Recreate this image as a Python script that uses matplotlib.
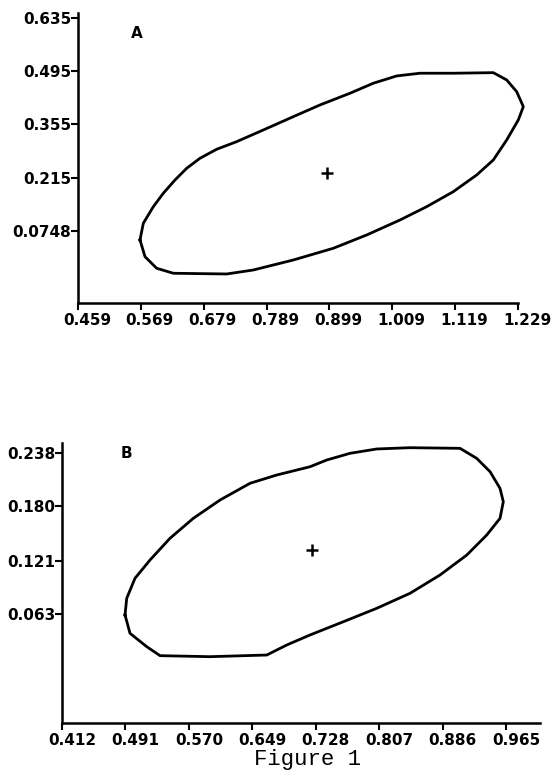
import matplotlib
matplotlib.use("Agg")
import matplotlib.pyplot as plt
import matplotlib.transforms as mtransforms

# ---------------- Data ----------------
# Panel A
a_xticks = [0.459, 0.569, 0.679, 0.789, 0.899, 1.009, 1.119, 1.229]
a_xlabels = ["0.459", "0.569", "0.679", "0.789", "0.899", "1.009", "1.119", "1.229"]
a_yticks = [0.0748, 0.215, 0.355, 0.495, 0.635]
a_ylabels = ["0.0748", "0.215", "0.355", "0.495", "0.635"]
a_contour_x = [0.5675, 0.5733, 0.5908, 0.6083, 0.6288, 0.6492, 0.6725, 0.7017,
               0.7367, 0.7833, 0.8358, 0.8825, 0.9350, 0.9758, 1.0167, 1.0575,
               1.1158, 1.1858, 1.2092, 1.2267, 1.2383, 1.2295, 1.2092, 1.1858,
               1.1567, 1.1158, 1.0692, 1.0225, 0.9642, 0.9058, 0.8358, 0.7658,
               0.7192, 0.6258, 0.5967, 0.5763, 0.5675]
a_contour_y = [0.0511, 0.0951, 0.1387, 0.1740, 0.2089, 0.2397, 0.2660, 0.2897,
               0.3097, 0.3404, 0.3754, 0.4062, 0.4370, 0.4633, 0.4825, 0.4896,
               0.4896, 0.4911, 0.4719, 0.4412, 0.4017, 0.3667, 0.3141, 0.2615,
               0.2221, 0.1782, 0.1387, 0.1037, 0.0643, 0.0293, -0.0015, -0.0278,
               -0.0383, -0.0364, -0.0233, 0.0072, 0.0511]
a_center = (0.8942, 0.2266)

# Panel B
b_xticks = [0.412, 0.491, 0.570, 0.649, 0.728, 0.807, 0.886, 0.965]
b_xlabels = ["0.412", "0.491", "0.570", "0.649", "0.728", "0.807", "0.886", "0.965"]
b_yticks = [0.063, 0.121, 0.180, 0.238]
b_ylabels = ["0.063", "0.121", "0.180", "0.238"]
b_contour_x = [0.4905, 0.4926, 0.5029, 0.5216, 0.5465, 0.5755, 0.6088, 0.6462,
               0.6794, 0.7209, 0.7417, 0.7707, 0.8040, 0.8454, 0.9077, 0.9285,
               0.9451, 0.9575, 0.9616, 0.9575, 0.9410, 0.9161, 0.8828, 0.8454,
               0.8040, 0.7624, 0.7209, 0.6919, 0.6670, 0.5963, 0.5341, 0.5175,
               0.4967, 0.4905]
b_contour_y = [0.0619, 0.0801, 0.1018, 0.1217, 0.1453, 0.1670, 0.1869, 0.2051,
               0.2141, 0.2231, 0.2304, 0.2377, 0.2424, 0.2438, 0.2431, 0.2322,
               0.2177, 0.1996, 0.1851, 0.1670, 0.1489, 0.1271, 0.1054, 0.0855,
               0.0692, 0.0546, 0.0402, 0.0293, 0.0184, 0.0166, 0.0177, 0.0275,
               0.0420, 0.0619]
b_center = (0.7230, 0.1326)

# ---------------- Figure ----------------
W, H = 553, 778
fig = plt.figure(figsize=(W / 100, H / 100), dpi=100)

def px_axes(l, r, t, b):
    return [l / W, 1 - b / H, (r - l) / W, (b - t) / H]

tick_font = dict(family="DejaVu Sans", weight="bold", size=11)

def style(ax, xticks, xlabels, yticks, ylabels, xoff):
    for s in ("top", "right"):
        ax.spines[s].set_visible(False)
    for s in ("left", "bottom"):
        ax.spines[s].set_linewidth(1.8)
    ax.set_xticks(xticks)
    ax.set_xticklabels(xlabels, fontdict=tick_font)
    ax.set_yticks(yticks)
    ax.set_yticklabels(ylabels, fontdict=tick_font)
    ax.tick_params(axis="both", direction="out", length=5, width=1.5, pad=2)
    ax.tick_params(axis="y", pad=0)
    off = mtransforms.ScaledTranslation(xoff / 100, 0, fig.dpi_scale_trans)
    for lab in ax.get_xticklabels():
        lab.set_transform(lab.get_transform() + off)

# Panel A
axA = fig.add_axes(px_axes(78, 518, 13, 303))
axA.set_xlim(0.459, 1.229)
axA.set_ylim(-0.1146, 0.648)
axA.plot(a_contour_x, a_contour_y, color="black", lw=2.0, clip_on=False,
         solid_joinstyle="round")
axA.plot([a_center[0]], [a_center[1]], marker="+", color="black", ms=9, mew=1.8)
style(axA, a_xticks, a_xlabels, a_yticks, a_ylabels, 9)
axA.text(137, H - 33, "A", transform=None, ha="center", va="center",
         family="DejaVu Sans", weight="bold", size=11)

# Panel B
axB = fig.add_axes(px_axes(62, 540, 443, 723))
axB.set_xlim(0.412, 1.0073)
axB.set_ylim(-0.0555, 0.2489)
axB.plot(b_contour_x, b_contour_y, color="black", lw=2.0, clip_on=False,
         solid_joinstyle="round")
axB.plot([b_center[0]], [b_center[1]], marker="+", color="black", ms=9, mew=1.8)
style(axB, b_xticks, b_xlabels, b_yticks, b_ylabels, 10)
axB.text(126, H - 453, "B", transform=None, ha="center", va="center",
         family="DejaVu Sans", weight="bold", size=11)

fig.text(307 / W, 1 - 759 / H, "Figure 1", ha="center", va="center",
         family="Liberation Mono", size=16)

fig.savefig("out.png", dpi=100)
